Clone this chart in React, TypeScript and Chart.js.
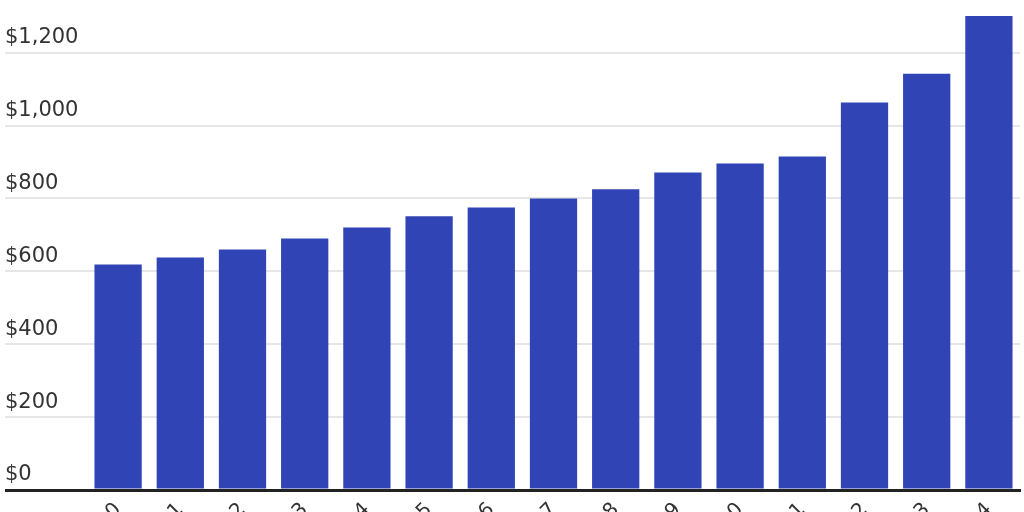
import { useEffect, useRef } from "react";
import { Chart, ChartConfiguration, registerables } from "chart.js";

Chart.register(...registerables);

const years = [
  "2010", "2011", "2012", "2013", "2014", "2015", "2016", "2017",
  "2018", "2019", "2020", "2021", "2022", "2023", "2024",
];
const amounts = [619, 638, 660, 690, 720, 751, 775, 800, 825, 871, 896, 915, 1063, 1142, 1301];
const yTicks = [0, 200, 400, 600, 800, 1000, 1200];

export default function App() {
  const canvasRef = useRef<HTMLCanvasElement>(null);
  const chartRef = useRef<Chart | null>(null);

  useEffect(() => {
    document.body.style.margin = "0";
    if (!canvasRef.current) return;
    if (chartRef.current) chartRef.current.destroy();
    const ctx = canvasRef.current.getContext("2d");
    if (!ctx) return;

    const config: ChartConfiguration = {
      type: "bar",
      data: {
        labels: years,
        datasets: [{
          data: amounts,
          backgroundColor: "#3044b5",
          categoryPercentage: 1,
          barPercentage: 0.76,
        }],
      },
      options: {
        animation: false,
        responsive: false,
        layout: { padding: { left: 5, right: 4, top: 0, bottom: 0 } },
        plugins: {
          legend: { display: false },
          tooltip: { enabled: false },
        },
        scales: {
          y: {
            min: 0,
            max: 1310,
            afterFit: (scale: any) => { scale.width = 82; },
            afterBuildTicks: (scale: any) => {
              scale.ticks = yTicks.map(v => ({ value: v }));
            },
            border: { display: false },
            grid: {
              color: (c: any) => (c.tick && c.tick.value === 0 ? "#222" : "#e6e6e6"),
              lineWidth: (c: any) => (c.tick && c.tick.value === 0 ? 3 : 2),
              tickLength: 82,
            },
            ticks: {
              crossAlign: "far",
              labelOffset: -15,
              padding: 0,
              color: "#333",
              font: { family: "DejaVu Sans", size: 21 },
              callback: (v: any) => "$" + Number(v).toLocaleString("en-US"),
            },
          },
          x: {
            afterFit: (scale: any) => { scale.height = 70; },
            border: { display: true, color: "#222", width: 3 },
            grid: { display: false, drawTicks: false },
            ticks: {
              minRotation: 45,
              maxRotation: 45,
              padding: 8,
              color: "#333",
              font: { family: "DejaVu Sans", size: 20 },
            },
          },
        },
      },
    };

    chartRef.current = new Chart(ctx, config);
    return () => {
      if (chartRef.current) chartRef.current.destroy();
    };
  }, []);

  return (
    <div style={{ width: 1024, height: 560 }}>
      <canvas ref={canvasRef} width={1024} height={560} style={{ display: "block" }} />
    </div>
  );
}
